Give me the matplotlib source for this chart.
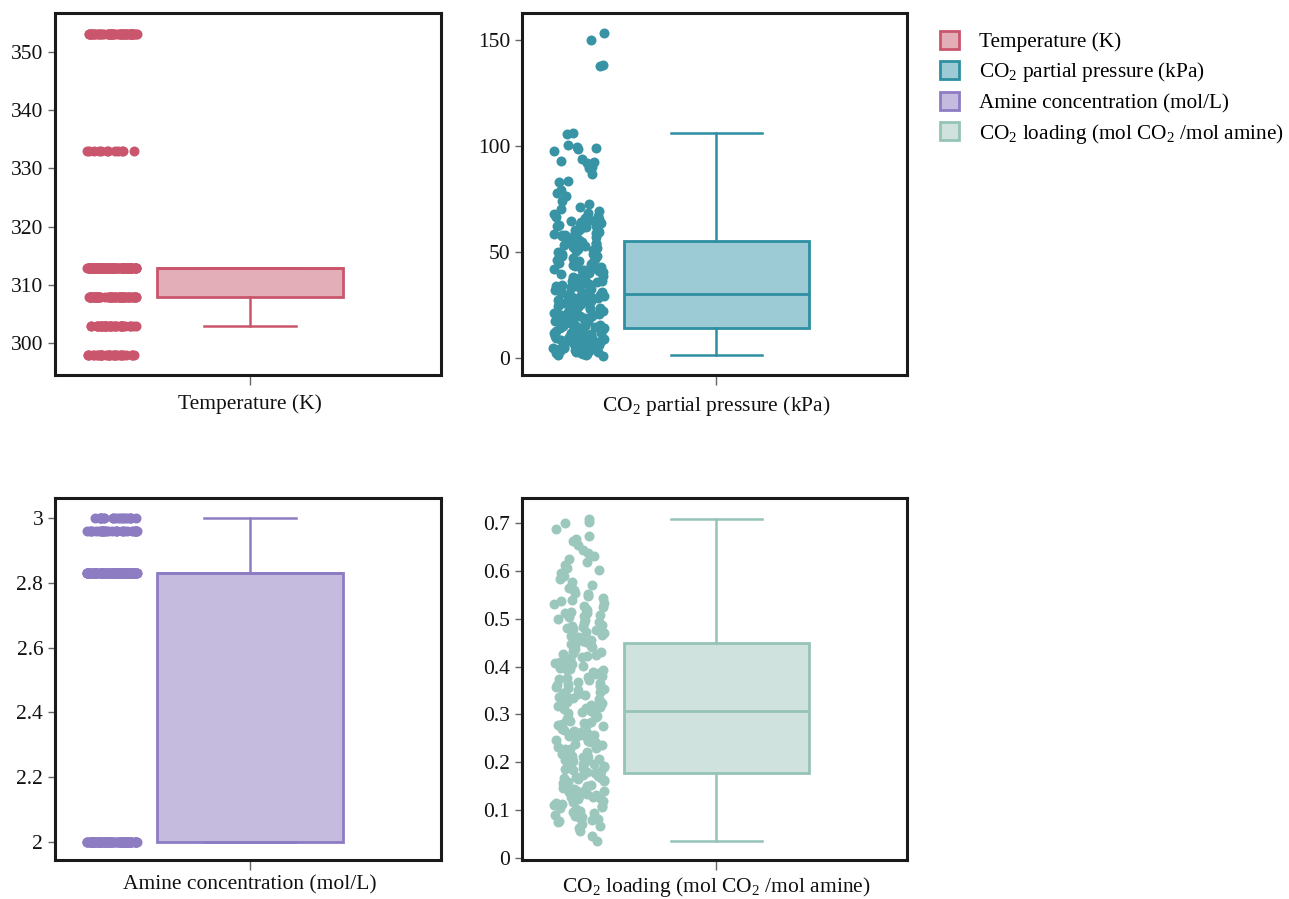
import numpy as np
import matplotlib
matplotlib.use("Agg")
import matplotlib.pyplot as plt
import seaborn as sns
from matplotlib.patches import Patch

# discrete variables: levels and how many samples sit at each level
temp_levels = [298, 303, 308, 313, 333, 353]
temp_counts = [30, 35, 60, 110, 12, 53]

amine_levels = [2.0, 2.83, 2.96, 3.0]
amine_counts = [110, 140, 30, 20]

# CO2 partial pressure samples (kPa)
pp_values = [
    1.1, 1.4, 1.6, 1.9, 2.1, 2.3, 2.4, 2.8, 3.0, 3.2, 3.3, 3.7, 4.0, 4.2, 4.5,
    4.7, 5.0, 5.1, 5.5, 5.8, 6.1, 6.3, 6.4, 6.9, 7.2, 7.4, 7.7, 8.0, 8.2, 8.5,
    8.8, 9.0, 9.3, 9.7, 10.0, 10.1, 10.5, 10.8, 11.0, 11.3, 11.6, 11.9, 12.1,
    12.4, 12.7, 13.0, 13.2, 13.6, 13.9, 14.1, 2.6, 3.5, 5.3, 6.7, 7.9, 9.5,
    10.3, 11.8, 12.9, 14.3,
    14.6, 14.9, 15.2, 15.5, 15.8, 16.0, 16.4, 16.7, 17.0, 17.3, 17.5, 17.9,
    18.2, 18.4, 18.8, 19.1, 19.4, 19.6, 20.0, 20.3, 20.5, 20.9, 21.2, 21.4,
    21.8, 22.1, 22.3, 22.7, 23.0, 23.3, 23.6, 23.9, 24.2, 24.4, 24.8, 25.1,
    25.4, 25.7, 26.0, 26.2, 26.6, 26.9, 27.1, 27.5, 27.8, 28.0, 28.4, 28.7,
    29.0, 29.2, 29.6, 29.9, 30.1, 15.1, 17.7, 19.9, 22.5, 24.6, 27.3, 29.4,
    30.6, 31.0, 31.4, 31.9, 32.3, 32.8, 33.1, 33.6, 34.0, 34.5, 34.9, 35.3,
    35.8, 36.2, 36.6, 37.1, 37.5, 38.0, 38.3, 38.9, 39.2, 39.7, 40.1, 40.6,
    41.0, 41.4, 41.9, 42.3, 42.8, 43.1, 43.7, 44.0, 44.5, 44.9, 45.4, 45.8,
    46.2, 46.7, 47.1, 47.6, 48.0, 48.4, 48.9, 49.3, 49.8, 50.2, 50.6, 51.1,
    51.5, 52.0, 52.4, 52.8, 53.3, 53.7, 54.2, 54.6, 55.0, 33.4, 41.7, 47.9,
    55.7, 56.0, 56.3, 56.8, 57.1, 57.4, 57.9, 58.2, 58.5, 58.9, 59.2, 59.6,
    59.9, 60.3, 60.6, 61.0, 61.4, 61.7, 62.1, 62.5, 62.8, 63.3, 63.7, 64.1,
    64.6, 65.0, 65.5, 66.0, 66.6, 67.2, 67.9, 68.6, 69.5, 70.4, 71.5, 72.8,
    74.0, 76.5, 78.0, 79.3, 83.1, 83.5, 87.0, 89.5, 90.2, 91.8, 92.5, 93.1,
    94.0, 97.8, 98.4, 99.0, 99.6, 100.4, 105.6, 106.0, 137.5, 138.0, 149.8,
    153.2,
]

# CO2 loading samples (mol CO2 / mol amine)
load_values = [
    0.035, 0.046, 0.055, 0.062, 0.066, 0.070, 0.074, 0.077, 0.079, 0.082,
    0.085, 0.088, 0.090, 0.093, 0.095, 0.098, 0.101, 0.104, 0.106, 0.109,
    0.111, 0.114, 0.117, 0.119, 0.122, 0.124, 0.127, 0.129, 0.132, 0.134,
    0.137, 0.139, 0.142, 0.144, 0.146, 0.149, 0.151, 0.153, 0.156, 0.158,
    0.160, 0.162, 0.164, 0.166, 0.168, 0.170, 0.172, 0.174, 0.176, 0.177,
    0.080, 0.097, 0.113, 0.126, 0.140, 0.150, 0.159, 0.167, 0.171, 0.175,
    0.180, 0.182, 0.185, 0.187, 0.190, 0.192, 0.195, 0.197, 0.200, 0.202,
    0.205, 0.207, 0.210, 0.212, 0.215, 0.217, 0.220, 0.222, 0.225, 0.227,
    0.230, 0.232, 0.235, 0.237, 0.240, 0.242, 0.245, 0.247, 0.250, 0.252,
    0.255, 0.257, 0.260, 0.262, 0.265, 0.267, 0.270, 0.272, 0.275, 0.277,
    0.280, 0.282, 0.285, 0.287, 0.290, 0.292, 0.295, 0.297, 0.300, 0.303,
    0.183, 0.199, 0.211, 0.228, 0.243, 0.256, 0.263, 0.279, 0.291, 0.304,
    0.308, 0.311, 0.313, 0.316, 0.319, 0.321, 0.324, 0.326, 0.329, 0.332,
    0.334, 0.337, 0.340, 0.342, 0.345, 0.347, 0.350, 0.353, 0.355, 0.358,
    0.360, 0.363, 0.366, 0.368, 0.371, 0.373, 0.376, 0.379, 0.381, 0.384,
    0.386, 0.389, 0.392, 0.394, 0.397, 0.399, 0.402, 0.405, 0.407, 0.410,
    0.412, 0.415, 0.418, 0.420, 0.423, 0.425, 0.428, 0.431, 0.433, 0.436,
    0.438, 0.441, 0.444, 0.446, 0.448, 0.317, 0.339, 0.361, 0.395, 0.427,
    0.451, 0.455, 0.458, 0.461, 0.464, 0.467, 0.470, 0.473, 0.476, 0.479,
    0.482, 0.485, 0.488, 0.491, 0.494, 0.497, 0.500, 0.503, 0.506, 0.509,
    0.512, 0.515, 0.518, 0.521, 0.524, 0.527, 0.530, 0.533, 0.537, 0.540,
    0.543, 0.547, 0.551, 0.555, 0.560, 0.565, 0.571, 0.578, 0.584, 0.590,
    0.597, 0.603, 0.607, 0.612, 0.620, 0.625, 0.631, 0.638, 0.645, 0.654,
    0.662, 0.667, 0.673, 0.688, 0.700, 0.703, 0.710, 0.454, 0.480, 0.512,
]

# box statistics: whislo, q1, med, q3, whishi
temp_box = [303, 308, 313, 313, 313]
pp_box = [1.4, 14.4, 30.3, 55.4, 106.0]
amine_box = [2.0, 2.0, 2.83, 2.83, 3.0]
load_box = [0.035, 0.178, 0.306, 0.449, 0.710]

labels = [
    "Temperature (K)",
    "CO$_\\mathregular{2}$ partial pressure (kPa)",
    "Amine concentration (mol/L)",
    "CO$_\\mathregular{2}$ loading (mol CO$_\\mathregular{2}$ /mol amine)",
]
edge_colors = ["#c9566c", "#2f8fa2", "#8e7cc3", "#96c3b8"]
fill_colors = ["#e3aeb7", "#9ccad5", "#c5bbde", "#cfe2dd"]
point_colors = ["#c9566c", "#3893a5", "#8e7cc3", "#9cc7bd"]
y_limits = [(294.6, 356.6), (-7.9, 162.7), (1.943, 3.063), (-0.005, 0.753)]
y_ticks = [
    [300, 310, 320, 330, 340, 350],
    [0, 50, 100, 150],
    [2, 2.2, 2.4, 2.6, 2.8, 3],
    [0, 0.1, 0.2, 0.3, 0.4, 0.5, 0.6, 0.7],
]
y_ticklabels = [
    None,
    None,
    ["2", "2.2", "2.4", "2.6", "2.8", "3"],
    ["0", "0.1", "0.2", "0.3", "0.4", "0.5", "0.6", "0.7"],
]

plt.rcParams["font.family"] = ["Liberation Serif", "DejaVu Serif"]
plt.rcParams["mathtext.fontset"] = "custom"
plt.rcParams["mathtext.rm"] = "Liberation Serif"
plt.rcParams["font.size"] = 15

temp_values = np.repeat(temp_levels, temp_counts)
amine_values = np.repeat(amine_levels, amine_counts)
all_values = [temp_values, pp_values, amine_values, load_values]
all_boxes = [temp_box, pp_box, amine_box, load_box]

W, H = 1289, 899
fig = plt.figure(figsize=(W / 100, H / 100), dpi=100)
rects = [
    (55, 13, 386, 362),
    (522, 13, 385, 362),
    (55, 498, 386, 362),
    (522, 498, 385, 362),
]
label_pads = [7, 7, 4, 4]

np.random.seed(3)
for i, (x0, y0, w, h) in enumerate(rects):
    ax = fig.add_axes([x0 / W, 1 - (y0 + h) / H, w / W, h / H])
    sns.stripplot(y=all_values[i], ax=ax, color=point_colors[i], size=7.2,
                  jitter=0.185, linewidth=0, zorder=3)
    lo, q1, med, q3, hi = all_boxes[i]
    stats = [dict(whislo=lo, q1=q1, med=med, q3=q3, whishi=hi, fliers=[])]
    ax.bxp(stats, positions=[1], widths=1.35, capwidths=0.66, patch_artist=True,
           showfliers=False,
           boxprops=dict(facecolor=fill_colors[i], edgecolor=edge_colors[i], linewidth=2),
           medianprops=dict(color=edge_colors[i], linewidth=2),
           whiskerprops=dict(color=edge_colors[i], linewidth=1.8),
           capprops=dict(color=edge_colors[i], linewidth=1.8))
    ax.set_xlim(-0.413, 2.384)
    ax.set_ylim(*y_limits[i])
    ax.set_xticks([1])
    ax.set_xticklabels([labels[i]])
    ax.set_yticks(y_ticks[i])
    if y_ticklabels[i] is not None:
        ax.set_yticklabels(y_ticklabels[i])
    ax.set_xlabel("")
    ax.set_ylabel("")
    ax.tick_params(axis="both", length=5, width=1, color="#666666", labelsize=15.5,
                   labelcolor="#111111")
    ax.tick_params(axis="x", length=7, pad=label_pads[i])
    for sp in ax.spines.values():
        sp.set_linewidth(2.2)
        sp.set_color("#1a1a1a")

handles = [Patch(facecolor=fill_colors[i], edgecolor=edge_colors[i], linewidth=2)
           for i in range(4)]
fig.legend(handles, labels, loc="upper left", bbox_to_anchor=(940 / W, 1 - 31 / H),
           frameon=False, fontsize=15.3, handlelength=0.9, handleheight=0.9,
           handletextpad=0.95, labelspacing=0.38, borderpad=0, borderaxespad=0)

fig.savefig("out.png", dpi=100)
